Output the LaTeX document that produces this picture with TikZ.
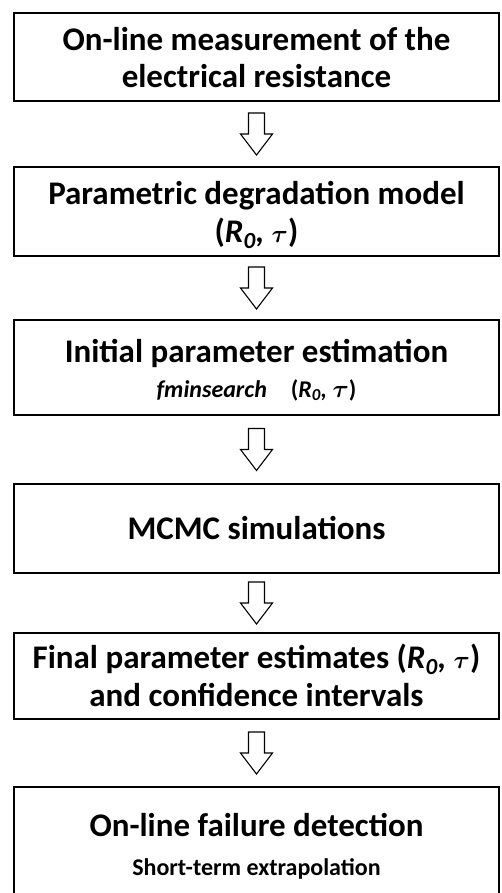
\documentclass[tikz,border=0pt]{standalone}
\usepackage{fontspec}
\setmainfont{Carlito}
\usetikzlibrary{calc}
\tikzset{
  box/.style={draw=black, line width=1.3pt, minimum width=485pt, inner sep=0pt},
  big/.style={font=\bfseries\fontsize{33}{38}\selectfont, anchor=base, inner sep=0pt},
  small/.style={font=\bfseries\fontsize{24}{28}\selectfont, anchor=base, inner sep=0pt},
  arr/.style={draw=black, line width=1.1pt, fill=white, line join=miter},
}
\newcommand{\rtau}{(\textit{R\textsubscript{0},} {\boldmath$\tau$})}
\newcommand{\blockarr}[2]{%
  \coordinate (m#1#2) at ($(#1.south)!0.5!(#2.north)$);
  \draw[arr] ($(m#1#2)+(-8,-21)$) -- ++(16,0) -- ++(0,21) -- ++(8,0) -- ++(-16,21) -- ++(-16,-21) -- ++(8,0) -- cycle;}
\begin{document}
\begin{tikzpicture}[x=1pt,y=-1pt]
\useasboundingbox (0,0) rectangle (501,893);
\clip (0,0) rectangle (501,893);
\node[box, minimum height=88pt] (b1) at (256.5,57) {};
\node[big] (t1a) at (256.5,51) {On-line measurement of the};
\node[big] (t1b) at (256.5,88) {electrical resistance};

\node[box, minimum height=89pt] (b2) at (256.5,211.5) {};
\node[big] (t2a) at (256.5,205) {Parametric degradation model};
\node[big] (t2b) at (256.5,242) {\rtau};

\node[box, minimum height=95pt] (b3) at (256.5,367.5) {};
\node[big] (t3a) at (256.5,362) {Initial parameter estimation};
\node[small] (t3b) at (256.5,397) {\textit{fminsearch}\quad\rtau};

\node[box, minimum height=89pt] (b4) at (256.5,528.5) {};
\node[big] (t4) at (256.5,539.5) {MCMC simulations};

\node[box, minimum height=86pt] (b5) at (256.5,676) {};
\node[big] (t5a) at (256.5,668) {Final parameter estimates \rtau};
\node[big] (t5b) at (256.5,706) {and confidence intervals};

\node[box, minimum height=113pt] (b6) at (256.5,843.5) {};
\node[big] (t6a) at (256.5,836) {On-line failure detection};
\node[small] (t6b) at (256.5,875) {Short-term extrapolation};

\blockarr{b1}{b2}
\blockarr{b2}{b3}
\blockarr{b3}{b4}
\blockarr{b4}{b5}
\blockarr{b5}{b6}
\end{tikzpicture}
\end{document}
